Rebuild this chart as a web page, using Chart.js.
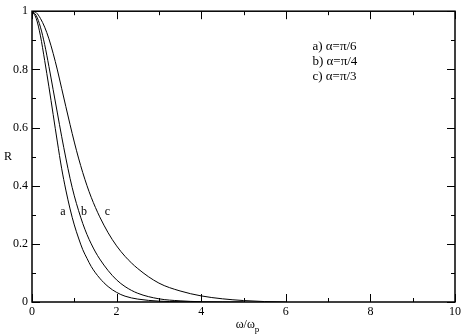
<!DOCTYPE html>
<html><head><meta charset="utf-8">
<script src="https://cdn.jsdelivr.net/npm/chart.js@4/dist/chart.umd.min.js"></script>
<style>html,body{margin:0;padding:0;background:#fff}#wrap{width:464px;height:335px}</style>
</head><body><div id="wrap"><canvas id="c" width="464" height="335"></canvas></div>
<script>
// Curve a) alpha = pi/6
const xA = [0, 0.1, 0.2, 0.3, 0.4, 0.5, 0.6, 0.7, 0.8, 0.9, 1.0, 1.1, 1.2, 1.3, 1.4, 1.6, 1.8, 2.0, 2.2, 2.5, 3.0, 3.5, 4.0];
const rA = [1, 0.975, 0.915, 0.83, 0.74, 0.645, 0.55, 0.46, 0.385, 0.32, 0.265, 0.22, 0.18, 0.15, 0.122, 0.082, 0.053, 0.033, 0.02, 0.01, 0.003, 0.0008, 0];
// Curve b) alpha = pi/4
const xB = [0, 0.1, 0.2, 0.3, 0.4, 0.5, 0.6, 0.7, 0.8, 0.9, 1.0, 1.1, 1.2, 1.3, 1.4, 1.5, 1.6, 1.8, 2.0, 2.2, 2.5, 3.0, 3.5, 4.0, 5.0];
const rB = [1, 0.985, 0.945, 0.885, 0.81, 0.73, 0.65, 0.57, 0.495, 0.425, 0.365, 0.315, 0.27, 0.232, 0.2, 0.172, 0.148, 0.108, 0.076, 0.053, 0.03, 0.011, 0.004, 0.001, 0];
// Curve c) alpha = pi/3
const xC = [0, 0.1, 0.2, 0.3, 0.4, 0.5, 0.6, 0.7, 0.8, 0.9, 1.0, 1.1, 1.2, 1.3, 1.4, 1.5, 1.6, 1.8, 2.0, 2.2, 2.5, 3.0, 3.5, 4.0, 4.5, 5.0, 5.5, 6.0];
const rC = [1, 0.995, 0.975, 0.945, 0.905, 0.855, 0.798, 0.735, 0.672, 0.61, 0.55, 0.495, 0.445, 0.4, 0.36, 0.325, 0.293, 0.238, 0.193, 0.157, 0.115, 0.065, 0.038, 0.021, 0.011, 0.005, 0.0015, 0];

const curveLabels = ['a', 'b', 'c'];
const curveLabelX = [0.73, 1.23, 1.78];
const curveLabelR = [0.31, 0.31, 0.31];
const legendLines = ['a) α=π/6', 'b) α=π/4', 'c) α=π/3'];
const xTitle = ['ω/ω', 'p'];
const yTitle = 'R';

const FONT = '"Liberation Serif", "Times New Roman", serif';

function mk(xs, rs) { return xs.map((x, i) => ({ x: x, y: rs[i] })); }

const series = [mk(xA, rA), mk(xB, rB), mk(xC, rC)];

const boxPlugin = {
  id: 'box',
  afterDraw(chart) {
    const ctx = chart.ctx, a = chart.chartArea;
    const sx = chart.scales.x, sy = chart.scales.y;
    ctx.save();
    ctx.strokeStyle = '#000';
    ctx.lineWidth = 1.5;
    ctx.strokeRect(a.left, a.top, a.right - a.left, a.bottom - a.top);
    ctx.lineWidth = 1;
    ctx.beginPath();
    for (let v = 0; v <= 10; v += 1) {
      const L = (v % 2 === 0) ? 8 : 4;
      const p = Math.round(sx.getPixelForValue(v)) + 0.5;
      ctx.moveTo(p, a.bottom); ctx.lineTo(p, a.bottom - L);
      ctx.moveTo(p, a.top); ctx.lineTo(p, a.top + L);
    }
    for (let k = 0; k <= 10; k += 1) {
      const v = k / 10;
      const L = (k % 2 === 0) ? 8 : 4;
      const p = Math.round(sy.getPixelForValue(v)) + 0.5;
      ctx.moveTo(a.left, p); ctx.lineTo(a.left + L, p);
      ctx.moveTo(a.right, p); ctx.lineTo(a.right - L, p);
    }
    ctx.stroke();

    ctx.fillStyle = '#000';
    ctx.textBaseline = 'middle';
    ctx.textAlign = 'center';
    ctx.font = '12px ' + FONT;
    curveLabels.forEach((t, i) => {
      ctx.fillText(t, sx.getPixelForValue(curveLabelX[i]), sy.getPixelForValue(curveLabelR[i]));
    });
    ctx.font = '13px ' + FONT;
    ctx.textAlign = 'left';
    const lx = a.left + (a.right - a.left) * 0.663;
    legendLines.forEach((t, i) => {
      ctx.fillText(t, lx, a.top + 35 + i * 15);
    });
    // axis titles
    ctx.font = '12px ' + FONT;
    const w0 = ctx.measureText(xTitle[0]).width;
    ctx.font = '9px ' + FONT;
    const w1 = ctx.measureText(xTitle[1]).width;
    const cx = (a.left + a.right) / 2 + 4;
    const x0 = cx - (w0 + w1) / 2;
    ctx.font = '12px ' + FONT;
    ctx.fillText(xTitle[0], x0, 325);
    ctx.font = '9px ' + FONT;
    ctx.fillText(xTitle[1], x0 + w0, 330);
    ctx.font = '12px ' + FONT;
    ctx.textAlign = 'center';
    ctx.fillText(yTitle, 8, (a.top + a.bottom) / 2);
    ctx.restore();
  }
};

new Chart(document.getElementById('c'), {
  type: 'scatter',
  data: {
    datasets: series.map((d, i) => ({
      label: curveLabels[i],
      data: d,
      showLine: true,
      borderColor: '#000',
      borderWidth: 1,
      pointRadius: 0,
      cubicInterpolationMode: 'monotone',
      fill: false
    }))
  },
  options: {
    responsive: false,
    devicePixelRatio: 1,
    animation: false,
    layout: { padding: { top: 4, right: 8, left: 0, bottom: 0 } },
    plugins: { legend: { display: false }, tooltip: { enabled: false } },
    scales: {
      x: {
        type: 'linear', min: 0, max: 10,
        grid: { display: false, drawTicks: false },
        border: { display: false },
        ticks: { stepSize: 2, color: '#000', padding: 3, font: { family: FONT, size: 12 }, maxRotation: 0 },
        afterFit(s) { s.height = 33; }
      },
      y: {
        type: 'linear', min: 0, max: 1,
        grid: { display: false, drawTicks: false },
        border: { display: false },
        ticks: {
          stepSize: 0.2, color: '#000', padding: 4, font: { family: FONT, size: 12 },
          callback: v => String(Math.round(v * 10) / 10)
        },
        afterFit(s) { s.width = 32; }
      }
    }
  },
  plugins: [boxPlugin]
});
</script>
</body></html>
